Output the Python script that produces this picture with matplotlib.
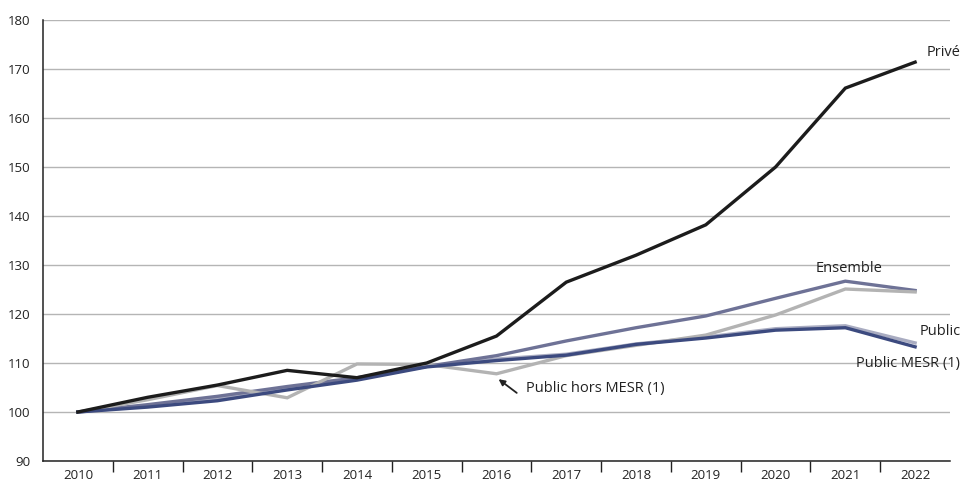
import numpy as np
import matplotlib.pyplot as plt
from matplotlib.ticker import FixedLocator

plt.rcParams['font.family'] = ['Open Sans', 'DejaVu Sans']

years = [str(y) for y in range(2010, 2023)]

prive = [100, 103.0, 105.5, 108.5, 107.0, 110.0, 115.5, 126.5, 132.0, 138.2, 150.0, 166.1, 171.4]
public_hors_mesr = [100, 102.5, 105.4, 102.9, 109.8, 109.7, 107.8, 111.5, 113.6, 115.7, 119.8, 125.1, 124.5]
ensemble = [100, 101.5, 103.2, 105.2, 107.0, 109.3, 111.5, 114.5, 117.2, 119.6, 123.2, 126.7, 124.8]
public = [100, 101.2, 102.7, 104.8, 106.8, 109.3, 110.8, 111.8, 113.9, 115.3, 117.0, 117.6, 114.1]
public_mesr = [100, 101.0, 102.3, 104.5, 106.5, 109.2, 110.5, 111.6, 113.8, 115.1, 116.7, 117.2, 113.3]

fig = plt.figure(figsize=(9.61, 4.88), dpi=100)
ax = fig.add_axes([43/961, 1-461/488, (950-43)/961, (461-20)/488])

x = np.arange(len(years))
lw = 2.4
ax.plot(x, public, color='#a9acc1', lw=lw, zorder=3, solid_joinstyle='miter')
ax.plot(x, public_mesr, color='#3c4a7f', lw=lw, zorder=4, solid_joinstyle='miter')
ax.plot(x, ensemble, color='#6e7296', lw=lw, zorder=3, solid_joinstyle='miter')
ax.plot(x, public_hors_mesr, color='#b3b3b3', lw=lw, zorder=3, solid_joinstyle='miter')
ax.plot(x, prive, color='#1c1c1c', lw=lw, zorder=5, solid_joinstyle='miter')

ax.set_xlim(-0.5, 12.5)
ax.set_ylim(90, 180)
ax.set_yticks(range(90, 181, 10))
ax.set_xticks(x)
ax.set_xticklabels(years)
ax.xaxis.set_minor_locator(FixedLocator(np.arange(0.5, 12.5, 1)))
ax.tick_params(axis='x', which='major', length=0, labelsize=9.5, colors='#222222', pad=6)
ax.tick_params(axis='x', which='minor', length=8, width=1, color='#222222', direction='out')
ax.tick_params(axis='y', length=0, labelsize=9.5, colors='#222222', pad=9)

ax.grid(axis='y', color='#b5b5b5', lw=1)
ax.set_axisbelow(True)
for s in ['top', 'right']:
    ax.spines[s].set_visible(False)
for s in ['left', 'bottom']:
    ax.spines[s].set_color('#222222')
    ax.spines[s].set_linewidth(1.1)

fs = 10.5
tc = '#222222'
ax.text(12.65, prive[-1] + 2.0, 'Privé', fontsize=fs, color=tc, ha='right', va='center', clip_on=False)
ax.text(11.05, ensemble[-2] + 1.0, 'Ensemble', fontsize=fs, color=tc, ha='center', va='bottom')
ax.text(12.65, public[-1] + 2.3, 'Public', fontsize=fs, color=tc, ha='right', va='center', clip_on=False)
ax.text(12.65, public_mesr[-1] - 3.4, 'Public MESR (1)', fontsize=fs, color=tc, ha='right', va='center',
        zorder=6, clip_on=False)
ax.text(6.42, 104.7, 'Public hors MESR (1)', fontsize=fs, color=tc, ha='left', va='center')
ax.annotate('', xy=(6.03, 106.7), xytext=(6.29, 103.9),
            arrowprops=dict(arrowstyle='-|>', color=tc, lw=1.3, shrinkA=0, shrinkB=0,
                            mutation_scale=9))

fig.savefig('out.png', dpi=100)
